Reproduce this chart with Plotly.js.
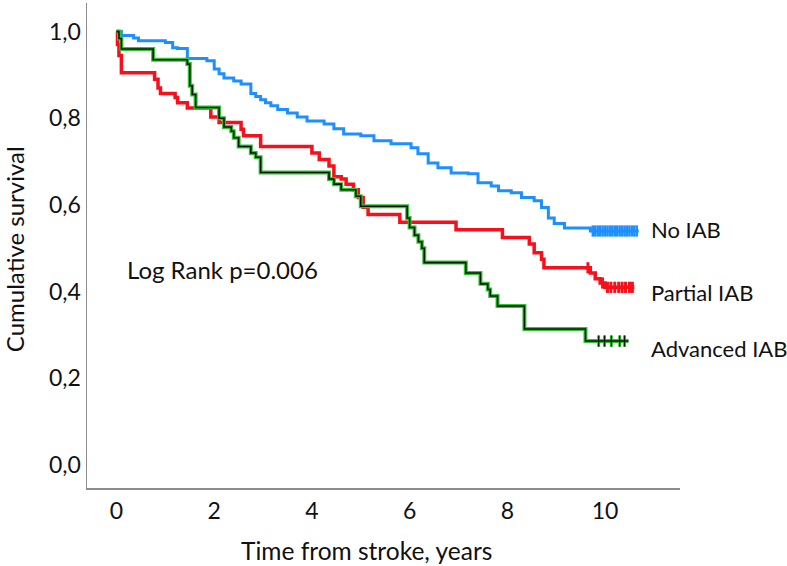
<!DOCTYPE html>
<html>
<head>
<meta charset="utf-8">
<script src="https://cdn.plot.ly/plotly-3.0.1.min.js"></script>
<style>html,body{margin:0;padding:0;background:#fff;}#chart{width:787px;height:566px;}</style>
</head>
<body>
<div id="chart"></div>
<script>
// ---- Data ----
const timesNo = [0, 0.1, 0.35, 0.45, 1.0, 1.15, 1.25, 1.45, 1.85, 2.0, 2.1, 2.2, 2.4, 2.55, 2.75, 2.85, 2.95, 3.05, 3.16, 3.3, 3.5, 3.7, 3.9, 4.25, 4.45, 4.65, 5.0, 5.27, 5.62, 6.03, 6.17, 6.38, 6.58, 6.85, 7.2, 7.4, 7.67, 7.82, 8.08, 8.29, 8.55, 8.70, 8.84, 8.96, 9.17, 9.7, 10.69];
const survNo  = [1.0, 0.991, 0.985, 0.979, 0.975, 0.963, 0.961, 0.938, 0.933, 0.914, 0.903, 0.893, 0.886, 0.879, 0.857, 0.850, 0.843, 0.836, 0.829, 0.82, 0.812, 0.803, 0.794, 0.787, 0.776, 0.764, 0.760, 0.748, 0.741, 0.732, 0.718, 0.697, 0.686, 0.674, 0.672, 0.651, 0.644, 0.633, 0.628, 0.617, 0.610, 0.594, 0.570, 0.557, 0.547, 0.540, 0.540];
const censNo  = [9.75, 9.8, 9.85, 9.9, 9.95, 10.0, 10.05, 10.1, 10.15, 10.2, 10.25, 10.3, 10.35, 10.4, 10.45, 10.5, 10.55, 10.6, 10.65];

const timesPartial = [0, 0.02, 0.05, 0.1, 0.78, 0.85, 0.9, 1.2, 1.25, 1.45, 1.93, 2.1, 2.55, 2.6, 2.95, 4.0, 4.15, 4.35, 4.45, 4.6, 4.7, 4.85, 4.95, 5.05, 5.15, 5.8, 6.95, 7.9, 8.45, 8.55, 8.7, 8.75, 9.7, 9.8, 9.9, 10.0, 10.6];
const survPartial  = [1.0, 0.97, 0.945, 0.905, 0.89, 0.87, 0.857, 0.848, 0.836, 0.824, 0.803, 0.79, 0.775, 0.76, 0.735, 0.72, 0.705, 0.69, 0.665, 0.66, 0.648, 0.635, 0.617, 0.595, 0.578, 0.56, 0.543, 0.525, 0.51, 0.49, 0.475, 0.455, 0.443, 0.43, 0.42, 0.41, 0.41];
const censPartial  = [9.65, 9.95, 10.05, 10.12, 10.2, 10.28, 10.35, 10.42, 10.5, 10.56];

const timesAdv = [0, 0.05, 0.1, 0.75, 1.45, 1.5, 1.55, 1.62, 2.1, 2.2, 2.35, 2.4, 2.5, 2.75, 2.85, 2.95, 4.35, 4.45, 4.6, 4.9, 5.0, 5.95, 6.0, 6.1, 6.18, 6.25, 6.3, 7.15, 7.45, 7.6, 7.65, 7.8, 8.35, 9.6, 10.48];
const survAdv  = [1.0, 0.984, 0.96, 0.935, 0.925, 0.875, 0.855, 0.825, 0.80, 0.78, 0.77, 0.755, 0.735, 0.72, 0.71, 0.675, 0.66, 0.648, 0.635, 0.62, 0.597, 0.57, 0.548, 0.53, 0.515, 0.50, 0.467, 0.443, 0.418, 0.405, 0.39, 0.367, 0.314, 0.286, 0.286];
const censAdv  = [9.87, 9.99, 10.13, 10.3, 10.4];

const groupLabels = ["No IAB", "Partial IAB", "Advanced IAB"];
const xTickVals = [0, 2, 4, 6, 8, 10];
const yTickVals = [0, 0.2, 0.4, 0.6, 0.8, 1.0];
const yTickText = ["0,0", "0,2", "0,4", "0,6", "0,8", "1,0"];
const pValueText = "Log Rank p=0.006";
const xTitle = "Time from stroke, years";
const yTitle = "Cumulative survival";

// ---- Helpers ----
function stepAt(times, surv, t) {
  let v = surv[0];
  for (let i = 0; i < times.length; i++) { if (times[i] <= t) v = surv[i]; else break; }
  return v;
}
const FONT = "Lato, 'Open Sans', sans-serif";
const BLUE = "#1e8fff", RED = "#f5101c", GREEN = "#33c233", DARK = "#0a1a0a";
const TXT = "#111";

function curve(times, surv, color, width) {
  return {x: times, y: surv, type: "scatter", mode: "lines", line: {shape: "hv", color: color, width: width}, hoverinfo: "skip", showlegend: false};
}
function censor(times, surv, cens, color, w) {
  return {x: cens, y: cens.map(t => stepAt(times, surv, t)), type: "scatter", mode: "markers",
    marker: {symbol: "line-ns", size: 8, line: {color: color, width: w}}, hoverinfo: "skip", showlegend: false};
}

const traces = [
  curve(timesNo, survNo, BLUE, 3),
  censor(timesNo, survNo, censNo, BLUE, 2.5),
  curve(timesPartial, survPartial, RED, 3.5),
  censor(timesPartial, survPartial, censPartial, RED, 3),
  curve(timesAdv, survAdv, GREEN, 4),
  censor(timesAdv, survAdv, censAdv, GREEN, 3),
  curve(timesAdv, survAdv, DARK, 1.6),
  censor(timesAdv, survAdv, censAdv, DARK, 1.2)
];

const annotations = [
  {x: 0.17, y: 0.45, xanchor: "left", yanchor: "middle", text: pValueText, showarrow: false, font: {family: FONT, size: 24, color: TXT}},
  {x: 10.9, y: 0.544, xanchor: "left", yanchor: "middle", text: groupLabels[0], showarrow: false, font: {family: FONT, size: 22, color: TXT}},
  {x: 10.9, y: 0.399, xanchor: "left", yanchor: "middle", text: groupLabels[1], showarrow: false, font: {family: FONT, size: 22, color: TXT}},
  {x: 10.9, y: 0.27, xanchor: "left", yanchor: "middle", text: groupLabels[2], showarrow: false, font: {family: FONT, size: 22, color: TXT}},
  {xref: "paper", yref: "paper", x: 0.472, y: -0.128, xanchor: "center", yanchor: "middle", text: xTitle, showarrow: false, font: {family: FONT, size: 24.5, color: TXT}},
  {xref: "paper", yref: "paper", x: -0.121, y: 0.493, xanchor: "center", yanchor: "middle", textangle: -90, text: yTitle, showarrow: false, font: {family: FONT, size: 24, color: TXT}}
];

const layout = {
  width: 787, height: 566,
  margin: {l: 87, r: 107, t: 3, b: 78},
  paper_bgcolor: "#fff", plot_bgcolor: "#fff",
  font: {family: FONT, color: TXT},
  xaxis: {range: [-0.604, 11.535], tickvals: xTickVals, showgrid: false, zeroline: false,
    showline: true, linecolor: "#8c8c8c", linewidth: 1.5, ticks: "", ticklabelstandoff: 2,
    tickfont: {family: FONT, size: 23, color: TXT}},
  yaxis: {range: [-0.053, 1.066], tickvals: yTickVals, ticktext: yTickText, showgrid: false, zeroline: false,
    showline: true, linecolor: "#8c8c8c", linewidth: 1.5, ticks: "", ticklabelstandoff: 0,
    tickfont: {family: FONT, size: 23, color: TXT}},
  annotations: annotations
};

Plotly.newPlot("chart", traces, layout, {displayModeBar: false, staticPlot: true});
</script>
</body>
</html>
